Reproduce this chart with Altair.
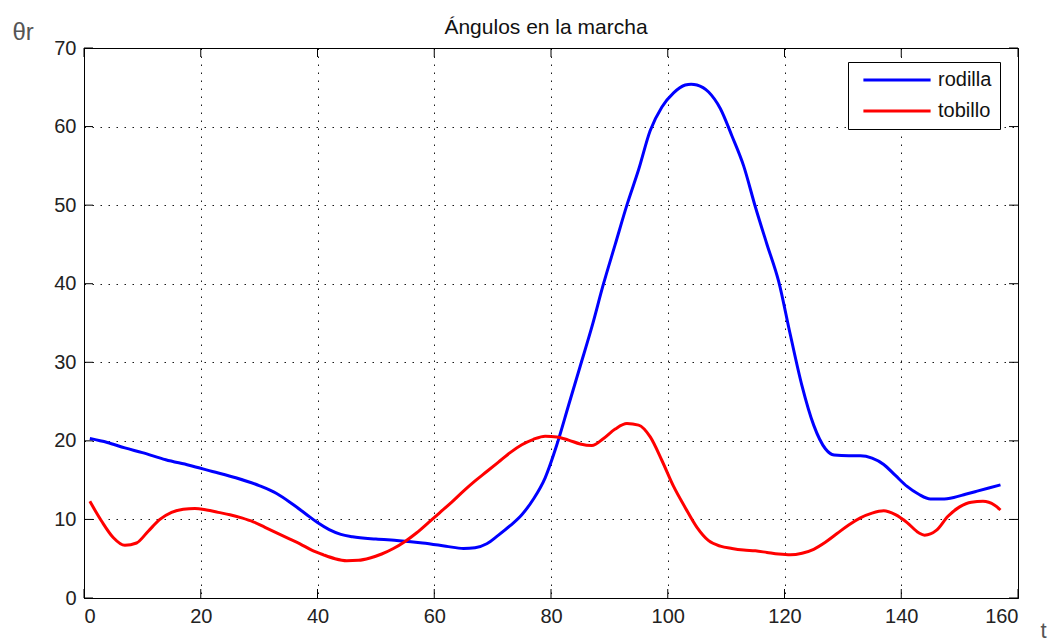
import altair as alt
import pandas as pd

# ---- data ----
t_rodilla = [1, 4, 7, 10, 14, 18, 22, 26, 30, 33, 36, 38, 40, 42, 44, 46, 50, 54, 58, 62, 65, 67, 69, 71, 73, 75,
             77, 79, 81, 83, 85, 87, 89, 91, 93, 95, 97, 99, 101, 103, 104, 105, 107, 109, 111, 113, 115, 117,
             119, 121, 123, 125, 127, 128.5, 131, 133, 135, 137, 139, 141, 143, 145, 147, 149, 151, 153, 155, 157]
rodilla = [20.3, 19.8, 19.1, 18.5, 17.6, 16.9, 16.1, 15.3, 14.3, 13.3, 11.8, 10.7, 9.6, 8.7, 8.1, 7.8, 7.5, 7.3,
           7.0, 6.6, 6.3, 6.4, 6.9, 8.0, 9.2, 10.6, 12.6, 15.3, 19.5, 24.5, 29.5, 34.5, 40.0, 45.0, 50.0, 54.5,
           59.5, 62.5, 64.3, 65.3, 65.4, 65.3, 64.4, 62.3, 58.8, 55.0, 49.8, 45.0, 40.3, 33.5, 27.0, 22.0, 19.0,
           18.2, 18.1, 18.1, 17.8, 17.0, 15.6, 14.2, 13.2, 12.6, 12.6, 12.8, 13.2, 13.6, 14.0, 14.4]

t_tobillo = [1, 3, 5, 7, 9, 11, 13, 15, 17, 19, 21, 23, 25, 27, 29, 31, 33, 35, 37, 39, 41, 43, 45, 47, 49, 51,
             53, 55, 57, 59, 61, 63, 65, 67, 69, 71, 73, 75, 77, 79, 81, 83, 85, 87, 89, 91, 93, 95, 97, 99, 101,
             103, 105, 107, 109, 111, 113, 115, 117, 119, 121, 123, 125, 127, 129, 131, 133, 135, 137, 139, 141,
             143, 144, 146, 148, 150, 152, 154, 156, 157]
tobillo = [12.3, 9.8, 7.7, 6.7, 7.0, 8.5, 10.0, 10.9, 11.3, 11.4, 11.2, 10.9, 10.6, 10.2, 9.7, 9.0, 8.3, 7.6, 6.9,
           6.1, 5.5, 5.0, 4.75, 4.8, 5.1, 5.6, 6.3, 7.2, 8.3, 9.6, 10.9, 12.2, 13.6, 14.9, 16.1, 17.3, 18.5,
           19.5, 20.2, 20.6, 20.5, 20.1, 19.6, 19.4, 20.3, 21.5, 22.2, 22.0, 20.5, 17.5, 14.2, 11.5, 9.0, 7.3,
           6.6, 6.3, 6.1, 6.0, 5.8, 5.6, 5.5, 5.7, 6.2, 7.1, 8.2, 9.3, 10.2, 10.8, 11.1, 10.6, 9.6, 8.3, 8.0,
           8.6, 10.4, 11.6, 12.2, 12.3, 11.8, 11.2]

series_names = ["rodilla", "tobillo"]
series_colors = ["#0000ff", "#ff0000"]
x_ticks = [0, 20, 40, 60, 80, 100, 120, 140, 160]
y_ticks = [0, 10, 20, 30, 40, 50, 60, 70]

W, H = 934, 550
FONT = "Liberation Sans"

df = pd.concat([
    pd.DataFrame({"t": t_rodilla, "v": rodilla, "serie": "rodilla"}),
    pd.DataFrame({"t": t_tobillo, "v": tobillo, "serie": "tobillo"}),
])
xt = pd.DataFrame({"x": x_ticks})
yt = pd.DataFrame({"y": y_ticks})

xscale = alt.Scale(domain=[0, 160], nice=False, zero=False)
yscale = alt.Scale(domain=[0, 70], nice=False)

lines = alt.Chart(df).mark_line(strokeWidth=3, interpolate="monotone").encode(
    x=alt.X("t:Q", scale=xscale,
            axis=alt.Axis(values=x_ticks, title="t", titleX=956, titleY=22, titleAngle=0,
                          titleAlign="left", titleBaseline="top", titleFontSize=22,
                          titleFontWeight="normal", titleColor="#555555", titleFont=FONT)),
    y=alt.Y("v:Q", scale=yscale,
            axis=alt.Axis(values=y_ticks, title="θr", titleX=-72, titleY=-9, titleAngle=0,
                          titleAlign="left", titleBaseline="alphabetic", titleFontSize=24,
                          titleFontWeight="normal", titleColor="#555555", titleFont=FONT)),
    color=alt.Color("serie:N", scale=alt.Scale(domain=series_names, range=series_colors),
                    legend=alt.Legend(orient="none", legendX=764, legendY=14, title=None,
                                      symbolType="M-4.8,0H4.8", symbolSize=196, symbolStrokeWidth=3,
                                      symbolOffset=31, labelOffset=31,
                                      labelFontSize=20, labelFont=FONT, labelColor="#111111",
                                      padding=8, strokeColor="black", fillColor="white",
                                      rowPadding=11)),
)

tick_style = dict(color="black", strokeWidth=1)
bottom_ticks = alt.Chart(xt).mark_rule(**tick_style).encode(
    x=alt.X("x:Q", scale=xscale), y=alt.value(H), y2=alt.value(H - 9))
top_ticks = alt.Chart(xt).mark_rule(**tick_style).encode(
    x=alt.X("x:Q", scale=xscale), y=alt.value(0), y2=alt.value(9))
left_ticks = alt.Chart(yt).mark_rule(**tick_style).encode(
    y=alt.Y("y:Q", scale=yscale), x=alt.value(0), x2=alt.value(9))
right_ticks = alt.Chart(yt).mark_rule(**tick_style).encode(
    y=alt.Y("y:Q", scale=yscale), x=alt.value(W), x2=alt.value(W - 9))

chart = alt.layer(bottom_ticks, top_ticks, left_ticks, right_ticks, lines).properties(
    width=W, height=H,
    background="white",
    title=alt.TitleParams("Ángulos en la marcha", fontSize=21, font=FONT, fontWeight="normal",
                          color="#111111", offset=-18, dx=-5),
    autosize="none",
    padding={"left": 84, "top": 48, "right": 40, "bottom": 43},
).configure_view(
    stroke="black", strokeWidth=1
).configure_axis(
    grid=True, gridColor="black", gridDash=[1.5, 6.5], gridOpacity=0.9, gridWidth=1,
    ticks=False, labelPadding=8, labelFontSize=20, labelFont=FONT, labelColor="#222222",
    domainColor="black", domainWidth=1,
)

chart.save("out.html", embed_options={"renderer": "svg", "actions": False})
